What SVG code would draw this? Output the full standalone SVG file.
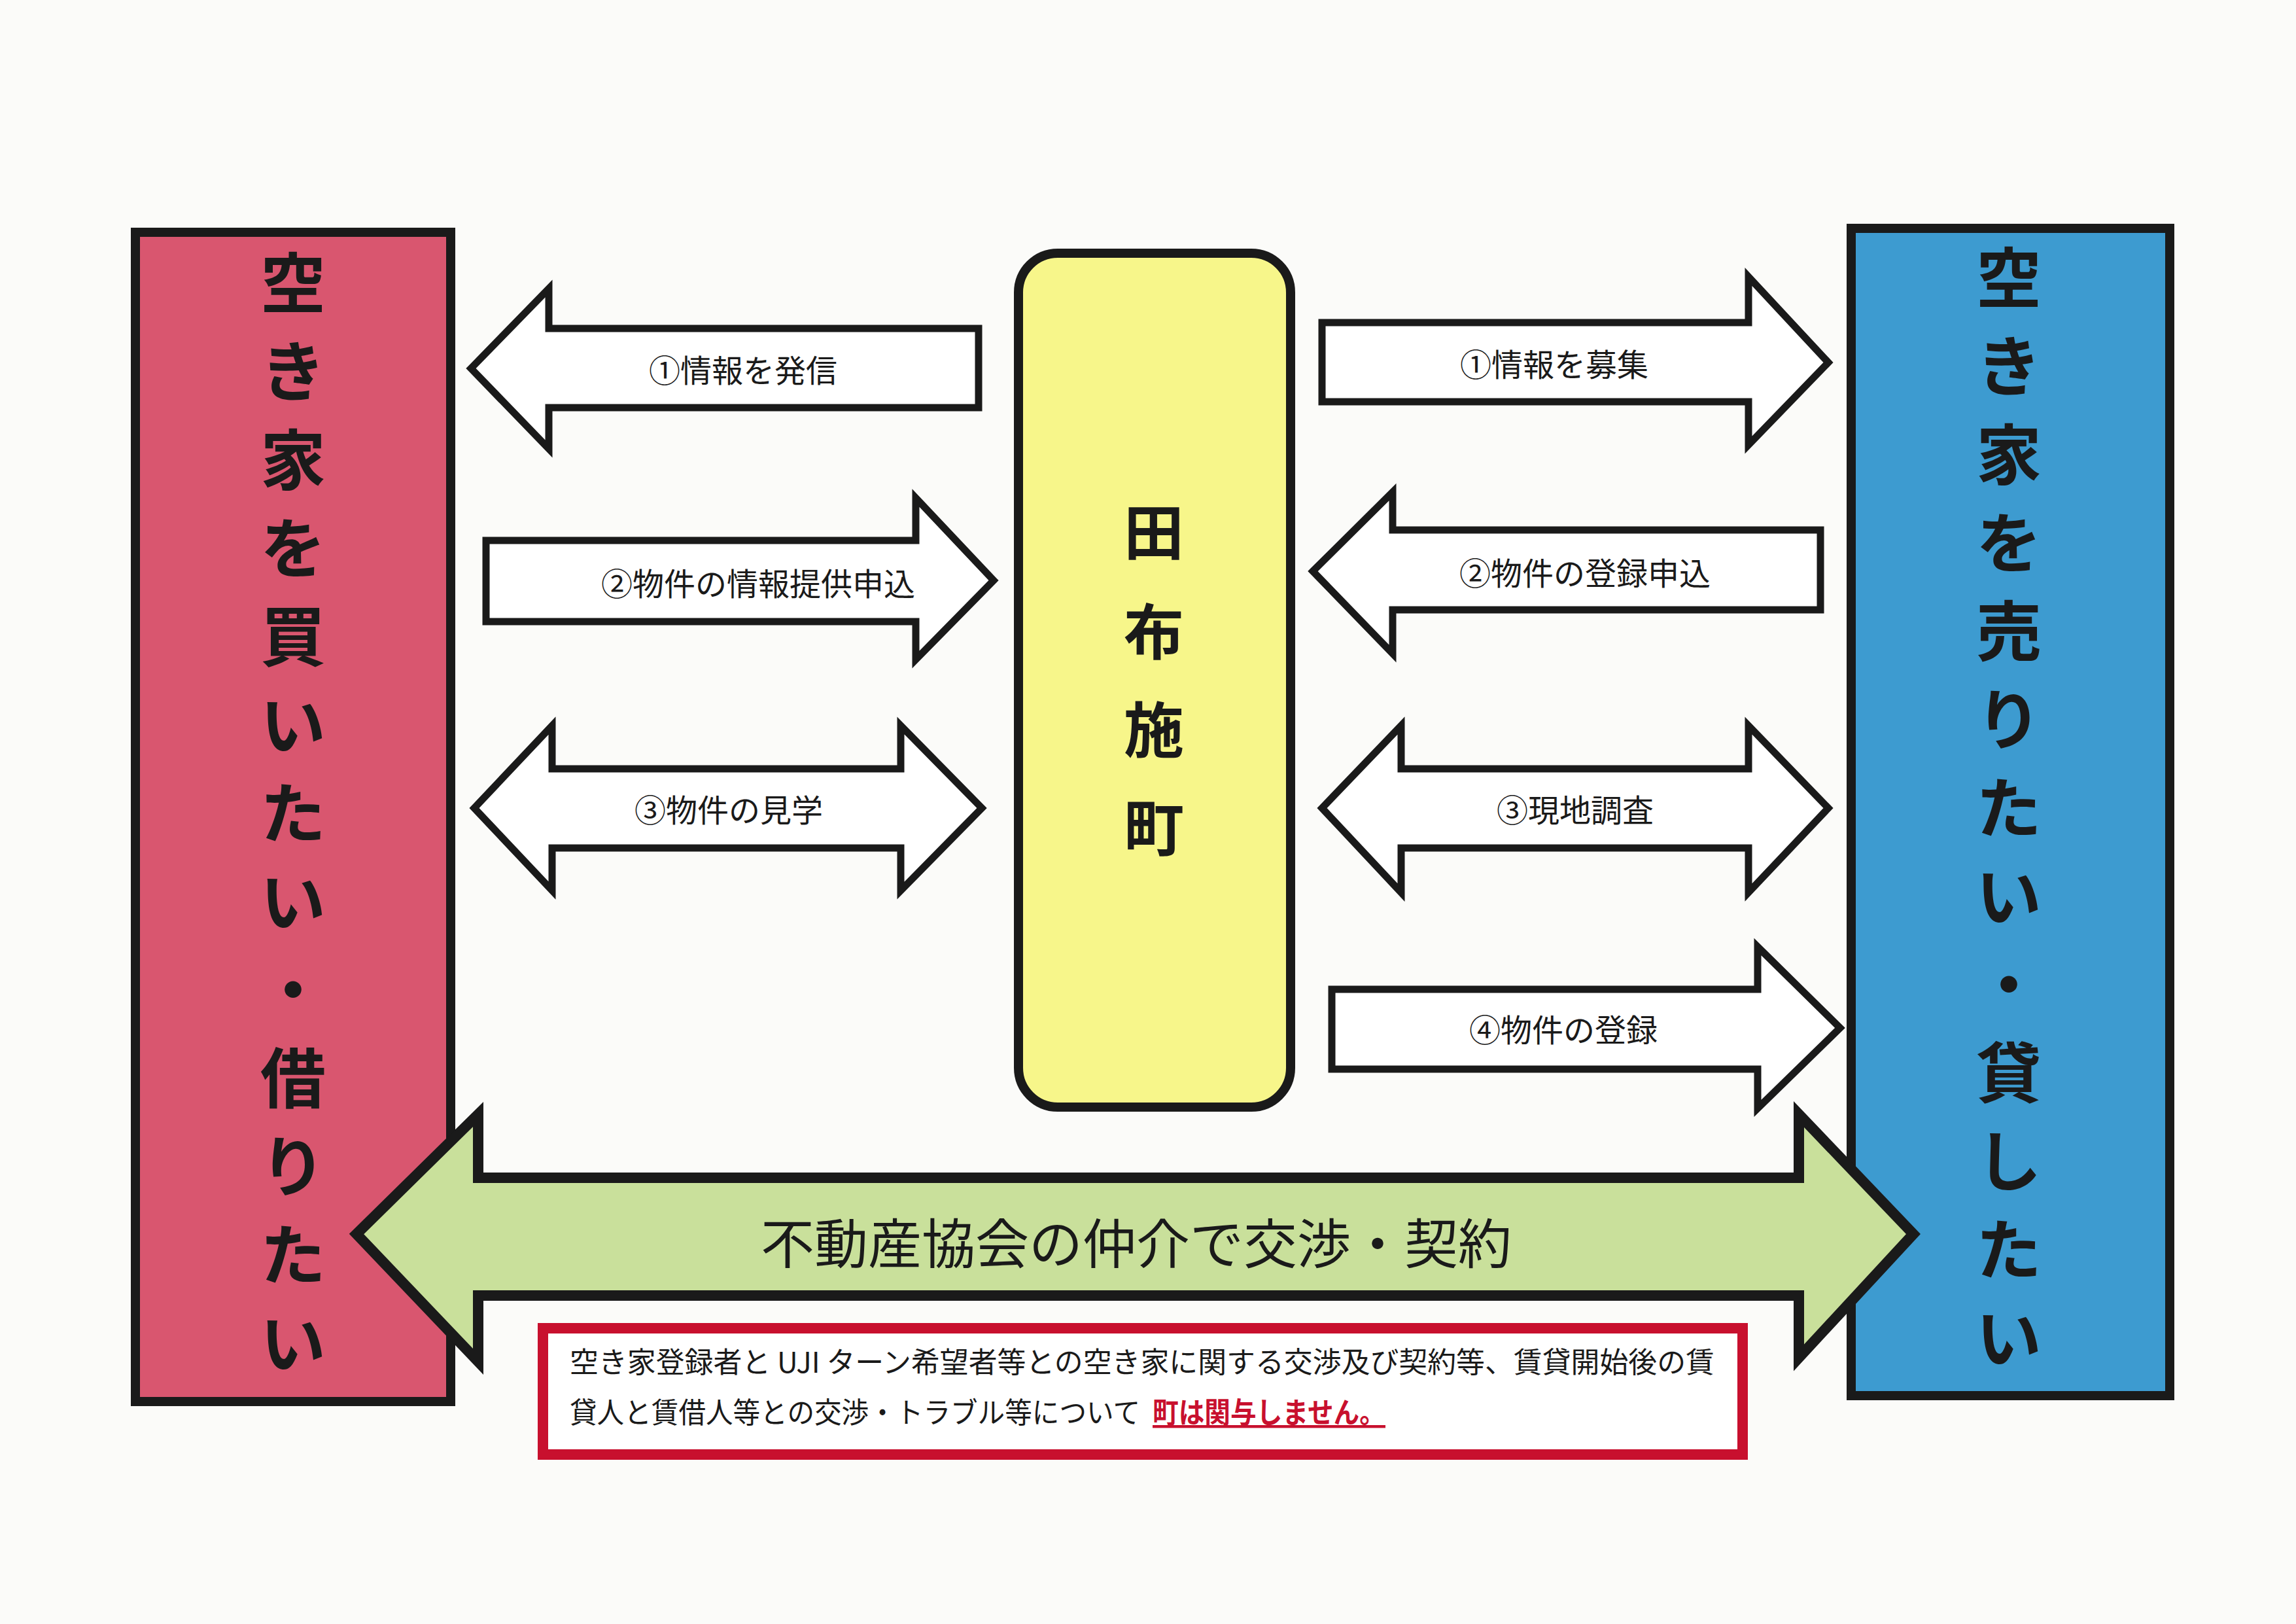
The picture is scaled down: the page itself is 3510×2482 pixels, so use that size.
<svg xmlns="http://www.w3.org/2000/svg" width="3510" height="2482" viewBox="0 0 3510 2482">
<style>
.big{font-family:"Noto Sans CJK JP","Noto Sans",sans-serif;font-weight:bold;font-size:100px;fill:#1a1a1a;text-anchor:middle}
.lbl{font-family:"Noto Sans CJK JP","Noto Sans",sans-serif;font-size:48px;fill:#1a1a1a;text-anchor:middle;dominant-baseline:central}
.arr{fill:#ffffff;stroke:#1a1a1a;stroke-width:11;stroke-linejoin:miter}
.note{font-family:"Noto Sans CJK JP","Noto Sans",sans-serif;font-size:44px;fill:#1a1a1a}
</style>
<rect width="3510" height="2482" fill="#fbfbf9"/>
<g id="buyer">
<rect x="207" y="355" width="482" height="1787" fill="#d9566f" stroke="#1a1a1a" stroke-width="14"/>
<text class="big" x="448"><tspan x="448" y="470">空</tspan><tspan x="448" y="605">き</tspan><tspan x="448" y="740">家</tspan><tspan x="448" y="875">を</tspan><tspan x="448" y="1010">買</tspan><tspan x="448" y="1145">い</tspan><tspan x="448" y="1280">た</tspan><tspan x="448" y="1415">い</tspan><tspan x="448" y="1550">・</tspan><tspan x="448" y="1685">借</tspan><tspan x="448" y="1820">り</tspan><tspan x="448" y="1955">た</tspan><tspan x="448" y="2090">い</tspan></text>
</g>
<g id="seller">
<rect x="2830" y="349" width="487" height="1784" fill="#3d9bd0" stroke="#1a1a1a" stroke-width="14"/>
<text class="big"><tspan x="3071" y="462">空</tspan><tspan x="3071" y="597">き</tspan><tspan x="3071" y="732">家</tspan><tspan x="3071" y="867">を</tspan><tspan x="3071" y="1002">売</tspan><tspan x="3071" y="1137">り</tspan><tspan x="3071" y="1272">た</tspan><tspan x="3071" y="1407">い</tspan><tspan x="3071" y="1542">・</tspan><tspan x="3071" y="1677">貸</tspan><tspan x="3071" y="1812">し</tspan><tspan x="3071" y="1947">た</tspan><tspan x="3071" y="2082">い</tspan></text>
</g>
<g id="town">
<rect x="1557" y="387" width="416" height="1305" rx="60" fill="#f7f68a" stroke="#1a1a1a" stroke-width="14"/>
<text class="big" style="font-size:92px"><tspan x="1764" y="848">田</tspan><tspan x="1764" y="1000">布</tspan><tspan x="1764" y="1150">施</tspan><tspan x="1764" y="1300">町</tspan></text>
</g>
<g id="connectors">
<polygon class="arr" points="720,563 839,441 839,502 1496,502 1496,623 839,623 839,686"/>
<text class="lbl" x="1136" y="563">①情報を発信</text>
<polygon class="arr" points="743,826 1400,826 1400,761 1519,887 1400,1008 1400,950 743,950"/>
<text class="lbl" x="1159" y="889">②物件の情報提供申込</text>
<polygon class="arr" points="725,1235 844,1109 844,1175 1377,1175 1377,1109 1501,1235 1377,1361 1377,1296 844,1296 844,1361"/>
<text class="lbl" x="1114" y="1235">③物件の見学</text>
<polygon class="arr" points="2021,493 2673,493 2673,423 2795,554 2673,680 2673,614 2021,614"/>
<text class="lbl" x="2376" y="554">①情報を募集</text>
<polygon class="arr" points="2007,873 2129,752 2129,810 2783,810 2783,932 2129,932 2129,999"/>
<text class="lbl" x="2423" y="873">②物件の登録申込</text>
<polygon class="arr" points="2021,1235 2142,1109 2142,1175 2673,1175 2673,1109 2795,1235 2673,1364 2673,1296 2142,1296 2142,1364"/>
<text class="lbl" x="2408" y="1235">③現地調査</text>
<polygon class="arr" points="2036,1512 2687,1512 2687,1447 2813,1571 2687,1694 2687,1634 2036,1634"/>
<text class="lbl" x="2390" y="1571">④物件の登録</text>
<polygon points="545,1886 731,1703 731,1800 2750,1800 2750,1703 2925,1886 2750,2075 2750,1980 731,1980 731,2081" fill="#c9e09b" stroke="#1a1a1a" stroke-width="16"/>
<text class="lbl" x="1737" y="1895" style="font-size:82px">不動産協会の仲介で交渉・契約</text>
</g>
<g id="note">
<rect x="830" y="2030" width="1834" height="193" fill="#ffffff" stroke="#c8102e" stroke-width="16"/>
<text class="note" x="871" y="2098" textLength="1750" lengthAdjust="spacingAndGlyphs">空き家登録者と UJI ターン希望者等との空き家に関する交渉及び契約等、賃貸開始後の賃</text>
<text class="note" x="871" y="2175" textLength="872" lengthAdjust="spacingAndGlyphs">貸人と賃借人等との交渉・トラブル等について</text>
<text class="note" x="1762" y="2175" textLength="356" lengthAdjust="spacingAndGlyphs" font-weight="bold" text-decoration="underline" style="fill:#c8102e">町は関与しません。</text>
</g>
</svg>
